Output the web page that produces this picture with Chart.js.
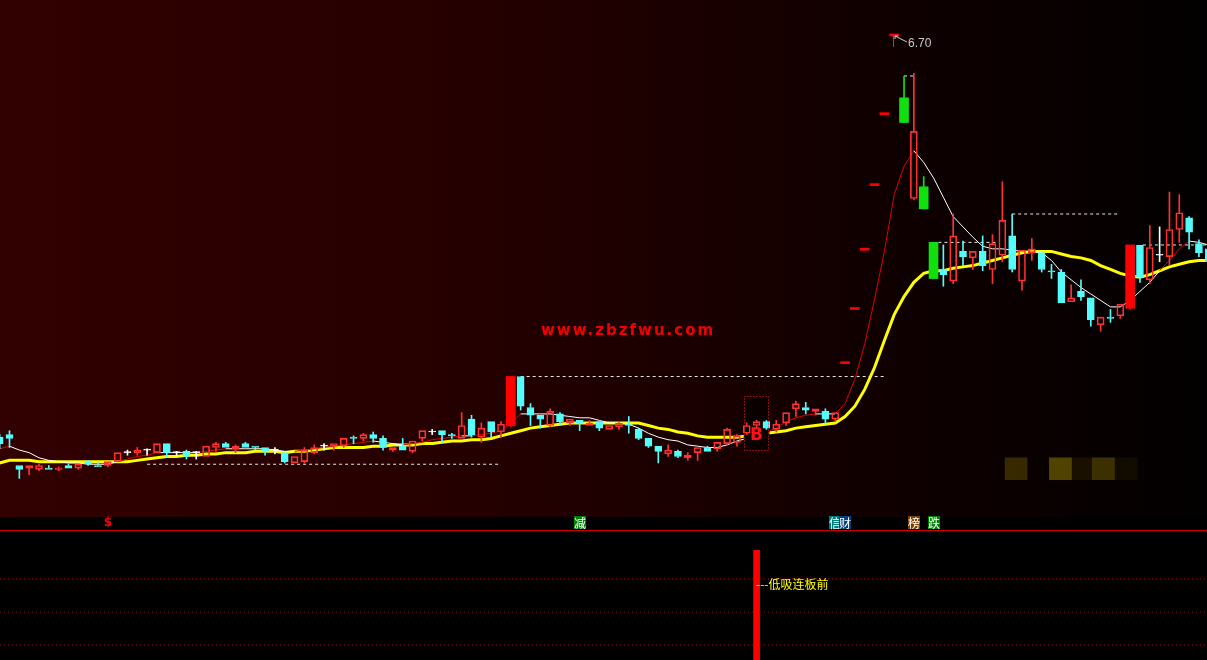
<!DOCTYPE html>
<html>
<head>
<meta charset="utf-8">
<title>K线 低吸连板前</title>
<script src="https://cdn.jsdelivr.net/npm/chart.js"></script>
<style>
  body { margin: 0; background: #000; }
  #wrap { position: relative; width: 1207px; height: 660px; overflow: hidden; background: #000; }
  #top { position: absolute; left: 0; top: 0; }
  #bot { position: absolute; left: 0; top: 530px; }
  #mark { position: absolute; left: 541px; top: 323px; font: bold 15px "DejaVu Sans"; line-height: 15px;
          letter-spacing: 2px; color: #f00000; white-space: nowrap; }
</style>
</head>
<body>
<div id="wrap">
  <canvas id="top" width="1207" height="530"></canvas>
  <canvas id="bot" width="1207" height="130"></canvas>
  <div id="mark">www.zbzfwu.com</div>
</div>
<script>
// daily candles
const openP = [3.59,3.61,3.37,3.35,3.34,3.35,3.34,3.37,3.35,3.40,
  3.37,3.37,3.40,3.47,3.47,3.49,3.47,3.54,3.47,3.48,
  3.47,3.44,3.51,3.54,3.50,3.54,3.52,3.51,3.49,3.47,
  3.39,3.40,3.47,3.52,3.52,3.52,3.59,3.58,3.61,3.58,
  3.49,3.52,3.48,3.58,3.63,3.64,3.61,3.58,3.73,3.59,
  3.71,3.63,3.68,4.06,3.82,3.76,3.68,3.77,3.70,3.72,
  3.68,3.71,3.65,3.67,3.69,3.65,3.58,3.52,3.46,3.48,
  3.43,3.47,3.51,3.50,3.54,3.55,3.62,3.68,3.71,3.65,
  3.70,3.81,3.82,3.79,3.79,3.73,4.16,4.58,5.04,5.54,
  6.09,6.70,6.22,5.44,5.53,5.10,4.89,4.80,5.03,4.98,
  5.03,4.89,5.00,5.15,4.80,5.02,5.02,4.88,4.87,4.64,
  4.72,4.67,4.46,4.52,4.53,4.59,5.08,4.81,5.00,4.99,
  5.20,5.29,5.09,5.05];
const highP = [3.61,3.64,3.37,3.37,3.38,3.37,3.36,3.38,3.38,3.41,
  3.40,3.40,3.47,3.49,3.51,3.50,3.54,3.54,3.48,3.49,
  3.48,3.52,3.55,3.55,3.53,3.55,3.52,3.51,3.51,3.47,
  3.44,3.51,3.53,3.54,3.54,3.58,3.60,3.62,3.63,3.60,
  3.51,3.58,3.56,3.64,3.65,3.64,3.62,3.78,3.76,3.70,
  3.71,3.71,4.06,4.06,3.85,3.76,3.81,3.78,3.73,3.72,
  3.72,3.71,3.68,3.71,3.75,3.66,3.58,3.52,3.53,3.49,
  3.47,3.51,3.52,3.55,3.66,3.61,3.70,3.72,3.72,3.72,
  3.78,3.87,3.86,3.81,3.81,3.78,4.16,4.58,5.04,5.54,
  6.09,6.70,6.39,6.41,5.61,5.10,5.08,5.32,5.11,5.03,
  5.15,5.16,5.57,5.32,5.04,5.13,5.02,4.93,4.89,4.77,
  4.81,4.67,4.52,4.58,4.62,5.08,5.08,5.23,5.22,5.49,
  5.47,5.30,5.12,5.06];
const lowP = [3.50,3.51,3.27,3.30,3.33,3.34,3.33,3.35,3.34,3.37,
  3.36,3.36,3.40,3.45,3.45,3.45,3.47,3.44,3.45,3.42,
  3.42,3.44,3.48,3.51,3.47,3.51,3.49,3.45,3.46,3.39,
  3.39,3.39,3.46,3.49,3.49,3.51,3.54,3.56,3.55,3.49,
  3.48,3.49,3.47,3.56,3.61,3.55,3.58,3.58,3.59,3.55,
  3.59,3.59,3.67,3.80,3.68,3.66,3.67,3.68,3.68,3.64,
  3.68,3.64,3.65,3.65,3.62,3.57,3.51,3.39,3.44,3.43,
  3.41,3.41,3.48,3.48,3.53,3.52,3.61,3.66,3.65,3.63,
  3.68,3.75,3.77,3.76,3.69,3.71,4.16,4.58,5.04,5.54,
  6.09,6.70,6.03,5.43,5.36,4.82,4.76,4.78,4.92,4.89,
  4.88,4.78,4.95,4.87,4.73,4.96,4.87,4.82,4.63,4.64,
  4.65,4.45,4.41,4.48,4.51,4.58,4.79,4.78,4.95,4.92,
  5.10,5.05,4.99,4.95];
const closeP = [3.54,3.58,3.34,3.37,3.37,3.34,3.35,3.35,3.38,3.38,
  3.36,3.40,3.47,3.47,3.49,3.49,3.54,3.47,3.47,3.44,
  3.47,3.52,3.54,3.51,3.52,3.51,3.51,3.48,3.49,3.40,
  3.44,3.49,3.51,3.52,3.54,3.58,3.58,3.61,3.58,3.51,
  3.51,3.49,3.56,3.64,3.63,3.61,3.60,3.68,3.61,3.66,
  3.63,3.69,4.06,3.83,3.76,3.73,3.79,3.71,3.73,3.70,
  3.70,3.66,3.68,3.70,3.68,3.58,3.52,3.48,3.49,3.44,
  3.45,3.51,3.48,3.55,3.65,3.60,3.68,3.71,3.66,3.69,
  3.78,3.85,3.80,3.81,3.73,3.78,4.16,4.58,5.04,5.54,
  6.09,6.70,6.03,5.96,5.36,4.82,4.85,5.15,4.99,5.03,
  4.92,5.09,5.27,4.89,5.04,5.05,4.89,4.87,4.63,4.67,
  4.68,4.50,4.52,4.51,4.62,5.08,4.83,5.06,5.00,5.20,
  5.33,5.18,5.02,4.95];

// short average (white / red) and long average (yellow)
const ma5 = [3.50,3.52,3.49,3.47,3.43,3.41,3.40,3.39,3.39,3.38,
  3.38,3.38,3.40,3.42,3.44,3.45,3.47,3.47,3.47,3.47,
  3.47,3.48,3.49,3.50,3.50,3.50,3.50,3.50,3.49,3.48,
  3.48,3.49,3.50,3.51,3.52,3.53,3.54,3.55,3.56,3.55,
  3.54,3.53,3.54,3.55,3.57,3.58,3.59,3.60,3.60,3.61,
  3.62,3.64,3.70,3.77,3.77,3.77,3.77,3.76,3.75,3.74,
  3.74,3.72,3.70,3.70,3.69,3.66,3.62,3.59,3.57,3.56,
  3.53,3.52,3.51,3.51,3.53,3.56,3.58,3.61,3.63,3.66,
  3.71,3.74,3.76,3.77,3.77,3.77,3.85,4.04,4.31,4.66,
  5.03,5.47,5.69,5.81,5.72,5.60,5.45,5.30,5.22,5.14,
  5.07,5.05,5.05,5.04,5.03,5.03,5.02,4.96,4.87,4.81,
  4.75,4.70,4.65,4.60,4.60,4.65,4.72,4.79,4.88,4.96,
  5.05,5.11,5.10,5.08];
const maLong = [3.39,3.41,3.41,3.41,3.40,3.40,3.40,3.40,3.40,3.40,
  3.40,3.40,3.40,3.40,3.41,3.42,3.43,3.44,3.44,3.45,
  3.45,3.46,3.46,3.47,3.47,3.47,3.48,3.48,3.48,3.47,
  3.48,3.48,3.49,3.50,3.51,3.51,3.51,3.51,3.52,3.52,
  3.53,3.53,3.53,3.54,3.54,3.55,3.56,3.56,3.57,3.57,
  3.58,3.60,3.62,3.64,3.66,3.67,3.68,3.69,3.70,3.70,
  3.70,3.70,3.70,3.70,3.70,3.70,3.68,3.66,3.65,3.63,
  3.62,3.60,3.59,3.59,3.59,3.59,3.60,3.61,3.62,3.63,
  3.64,3.66,3.67,3.68,3.69,3.70,3.75,3.83,3.96,4.13,
  4.34,4.54,4.68,4.79,4.86,4.88,4.88,4.90,4.91,4.92,
  4.94,4.96,4.98,5.00,5.02,5.03,5.03,5.03,5.01,4.99,
  4.98,4.96,4.92,4.89,4.86,4.84,4.83,4.85,4.88,4.91,
  4.93,4.95,4.96,4.96];

// dashed price levels (price, from bar, to bar)
const levelPrice = [3.38, 4.06, 6.39, 5.10, 5.32, 5.08];
const levelFrom = [15, 53, 92, 95.5, 103, 116.3];
const levelTo = [51, 90, 93, 101.5, 113.7, 122.8];

// buy box, top label, shaded blocks
const boxIndex = 77, boxLow = 3.48, boxHigh = 3.91, boxText = 'B', boxTextPrice = 3.60;
const topIndex = 91, topPrice = 6.70, topLabel = '6.70';
const blockX = [103.4, 107.9, 110.1, 112.3, 114.6];
const blockLevel = [18, 29, 7, 21, 5];
const blockLow = 3.26, blockHigh = 3.43;

// event markers under the candles
const markIdx = [11, 59, 85, 86, 93, 95];
const markText = ['$', '减', '信', '财', '榜', '跌'];

// lower panel
const signalIdx = 77, signalValue = 106, signalLabel = '---低吸连板前';
const guideLevels = [20, 50, 80];

const RED = '#ff3232', CYAN = '#54fcfc', WHITE = '#ffffff', LIMUP = '#ff0000', LIMDN = '#10e010';
const X_MIN = 0.034, X_MAX = 122.82;
const markBg = { '减': '#008000', '信': '#007c7c', '财': '#00407c', '榜': '#7c4000', '跌': '#008000' };

function limitState(i) {
  if (i === 0) return 0;
  const pc = closeP[i - 1];
  if (closeP[i] >= Math.round(pc * 110) / 100 - 1e-9) return 1;
  if (closeP[i] <= Math.round(pc * 90) / 100 + 1e-9) return -1;
  return 0;
}
function candleColor(i) {
  const lim = limitState(i);
  if (lim > 0) return LIMUP;
  if (lim < 0) return LIMDN;
  if (closeP[i] > openP[i]) return RED;
  if (closeP[i] < openP[i]) return CYAN;
  return WHITE;
}

const idx = closeP.map((_, i) => i);
const colors = idx.map(candleColor);

const bodies = idx.map(i => ({ x: i, y: [openP[i], closeP[i]] }));
const upperWick = idx.map(i => {
  const top = Math.max(openP[i], closeP[i]);
  return { x: i, y: highP[i] > top ? [top, highP[i]] : null };
});
const lowerWick = idx.map(i => {
  const bot = Math.min(openP[i], closeP[i]);
  return { x: i, y: lowP[i] < bot ? [lowP[i], bot] : null };
});
const limitBars = idx.map(i => ({ x: i, y: limitState(i) ? [openP[i], closeP[i]] : null }));

const levelSets = levelPrice.map((p, k) => ({
  type: 'line',
  data: [{ x: levelFrom[k], y: p }, { x: levelTo[k], y: p }],
  borderColor: '#e8e8e8', borderWidth: 1, borderDash: [3, 3],
  pointRadius: 0, order: 9
}));

const bgPlugin = {
  id: 'bg',
  beforeDraw(chart) {
    const ctx = chart.ctx, a = chart.chartArea;
    ctx.save();
    ctx.fillStyle = '#000';
    ctx.fillRect(0, 0, chart.width, chart.height);
    const g = ctx.createLinearGradient(a.left, 0, a.right, 0);
    g.addColorStop(0, 'rgb(50,0,0)');
    g.addColorStop(0.33, 'rgb(40,0,0)');
    g.addColorStop(0.5, 'rgb(31,0,0)');
    g.addColorStop(0.75, 'rgb(15,0,0)');
    g.addColorStop(1, 'rgb(3,0,0)');
    ctx.fillStyle = g;
    ctx.fillRect(a.left, a.top, a.right - a.left, a.bottom - a.top);
    ctx.restore();
  }
};

const notesPlugin = {
  id: 'notes',
  afterDatasetsDraw(chart) {
    const ctx = chart.ctx, xs = chart.scales.x, ys = chart.scales.y, a = chart.chartArea;
    ctx.save();
    // dotted frame round the buy box
    const boxMeta = chart.getDatasetMeta(chart.data.datasets.findIndex(d => d.label === 'box'));
    const el = boxMeta.data[0];
    if (el) {
      const p = el.getProps(['x', 'y', 'base', 'width'], true);
      ctx.strokeStyle = '#ff2020';
      ctx.lineWidth = 1;
      ctx.setLineDash([1, 2]);
      ctx.strokeRect(Math.round(p.x - p.width / 2) + 0.5, Math.round(p.y) + 0.5,
                     Math.round(p.width) - 1, Math.round(p.base - p.y) - 1);
      ctx.setLineDash([]);
    }
    ctx.fillStyle = '#ff1010';
    ctx.font = 'bold 17px "DejaVu Sans"';
    ctx.textAlign = 'center';
    ctx.textBaseline = 'middle';
    ctx.fillText(boxText, xs.getPixelForValue(boxIndex), ys.getPixelForValue(boxTextPrice));

    // highest price label
    const tx = Math.round(xs.getPixelForValue(topIndex)), ty = Math.round(ys.getPixelForValue(topPrice));
    ctx.strokeStyle = '#ff2020';
    ctx.beginPath(); ctx.moveTo(tx - 0.5, ty - 1); ctx.lineTo(tx - 0.5, ty + 11); ctx.stroke();
    ctx.strokeStyle = '#d0d0d0';
    ctx.beginPath(); ctx.moveTo(tx + 1, ty); ctx.lineTo(tx + 13, ty + 6); ctx.stroke();
    ctx.beginPath(); ctx.moveTo(tx + 1, ty); ctx.lineTo(tx + 1, ty + 3); ctx.moveTo(tx + 1, ty); ctx.lineTo(tx + 4, ty); ctx.stroke();
    ctx.fillStyle = '#c8c8c8';
    ctx.font = '12px "Liberation Sans"';
    ctx.textAlign = 'left';
    ctx.textBaseline = 'alphabetic';
    ctx.fillText(topLabel, tx + 14, ty + 11);

    // event markers in the strip under the price panel
    ctx.font = '12px "Noto Sans CJK SC"';
    ctx.textAlign = 'center';
    ctx.textBaseline = 'middle';
    markIdx.forEach((m, k) => {
      const mx = Math.round(xs.getPixelForValue(m));
      const t = markText[k];
      if (markBg[t]) {
        ctx.fillStyle = markBg[t];
        ctx.fillRect(mx - 6, a.bottom - 1, 12, 13);
        ctx.fillStyle = '#ffffff';
      } else {
        ctx.fillStyle = '#ff0000';
        ctx.font = 'bold 12px "DejaVu Sans"';
      }
      ctx.fillText(t, mx, a.bottom + 6);
      ctx.font = '12px "Noto Sans CJK SC"';
    });
    ctx.restore();
  }
};

const barBase = { type: 'bar', grouped: false, borderSkipped: false };

new Chart(document.getElementById('top'), {
  type: 'bar',
  data: {
    datasets: [
      Object.assign({}, barBase, {
        label: 'limit', data: limitBars, barThickness: 9, minBarLength: 2,
        backgroundColor: idx.map(i => colors[i]), borderWidth: 0, order: 3
      }),
      Object.assign({}, barBase, {
        label: 'body', data: bodies, barThickness: 7, minBarLength: 1,
        backgroundColor: idx.map(i => closeP[i] > openP[i] && !limitState(i) ? 'rgba(0,0,0,0)' : colors[i]),
        borderColor: colors, borderWidth: 1, order: 4
      }),
      Object.assign({}, barBase, {
        label: 'upper', data: upperWick, barThickness: 1,
        backgroundColor: colors, borderWidth: 0, order: 5
      }),
      Object.assign({}, barBase, {
        label: 'lower', data: lowerWick, barThickness: 1,
        backgroundColor: colors, borderWidth: 0, order: 5
      }),
      Object.assign({}, barBase, {
        label: 'box', data: [{ x: boxIndex, y: [boxLow, boxHigh] }], barThickness: 25,
        backgroundColor: '#0a0000', borderWidth: 0, order: 6
      }),
      {
        type: 'line', label: 'ma5', data: idx.map(i => ({ x: i, y: ma5[i] })),
        borderWidth: 1, pointRadius: 0, order: 7, borderColor: '#ffffff',
        segment: {
          borderColor: c => (ma5[c.p1DataIndex] > ma5[c.p0DataIndex] &&
                             ma5[c.p1DataIndex] > maLong[c.p1DataIndex]) ? '#e00000' : '#ffffff'
        }
      },
      {
        type: 'line', label: 'maLong', data: idx.map(i => ({ x: i, y: maLong[i] })),
        borderColor: '#ffff00', borderWidth: 3, pointRadius: 0, order: 8
      },
      ...levelSets,
      Object.assign({}, barBase, {
        label: 'blocks', data: blockX.map(x => ({ x: x, y: [blockLow, blockHigh] })), barThickness: 22,
        backgroundColor: blockLevel.map(v => 'rgba(255,228,0,' + (v / 100) + ')'), borderWidth: 0, order: 10
      })
    ]
  },
  options: {
    responsive: false,
    animation: false,
    devicePixelRatio: 1,
    events: [],
    layout: { padding: { left: 0, right: 0, top: 0, bottom: 13 } },
    scales: {
      x: { type: 'linear', min: X_MIN, max: X_MAX, offset: false, display: false },
      y: { type: 'linear', min: 2.971, max: 6.979, display: false }
    },
    plugins: { legend: { display: false }, tooltip: { enabled: false } }
  },
  plugins: [bgPlugin, notesPlugin]
});

const lowerPlugin = {
  id: 'lower',
  beforeDraw(chart) {
    const ctx = chart.ctx;
    ctx.save();
    ctx.fillStyle = '#000';
    ctx.fillRect(0, 0, chart.width, chart.height);
    ctx.restore();
  },
  afterDatasetsDraw(chart) {
    const ctx = chart.ctx, xs = chart.scales.x, ys = chart.scales.y;
    ctx.save();
    ctx.strokeStyle = '#d00000';
    ctx.lineWidth = 1;
    ctx.beginPath(); ctx.moveTo(0, 0.5); ctx.lineTo(chart.width, 0.5); ctx.stroke();
    ctx.fillStyle = '#ffff00';
    ctx.font = '12px "Noto Sans CJK SC"';
    ctx.textAlign = 'left';
    ctx.textBaseline = 'middle';
    ctx.fillText(signalLabel, Math.round(xs.getPixelForValue(signalIdx)) - 1, ys.getPixelForValue(guideLevels[2]) + 5);
    ctx.restore();
  }
};

new Chart(document.getElementById('bot'), {
  type: 'bar',
  data: {
    datasets: [
      Object.assign({}, barBase, {
        label: 'signal', data: [{ x: signalIdx, y: signalValue }], barThickness: 6,
        backgroundColor: '#ff0000', borderWidth: 0, order: 1
      }),
      ...guideLevels.map(v => ({
        type: 'line', data: [{ x: X_MIN, y: v }, { x: X_MAX, y: v }],
        borderColor: '#b40000', borderWidth: 1, borderDash: [1, 3], pointRadius: 0, order: 2
      }))
    ]
  },
  options: {
    responsive: false,
    animation: false,
    devicePixelRatio: 1,
    events: [],
    layout: { padding: 0 },
    scales: {
      x: { type: 'linear', min: X_MIN, max: X_MAX, offset: false, display: false },
      y: { type: 'linear', min: 6.36, max: 124.5, display: false }
    },
    plugins: { legend: { display: false }, tooltip: { enabled: false } }
  },
  plugins: [lowerPlugin]
});
</script>
</body>
</html>
